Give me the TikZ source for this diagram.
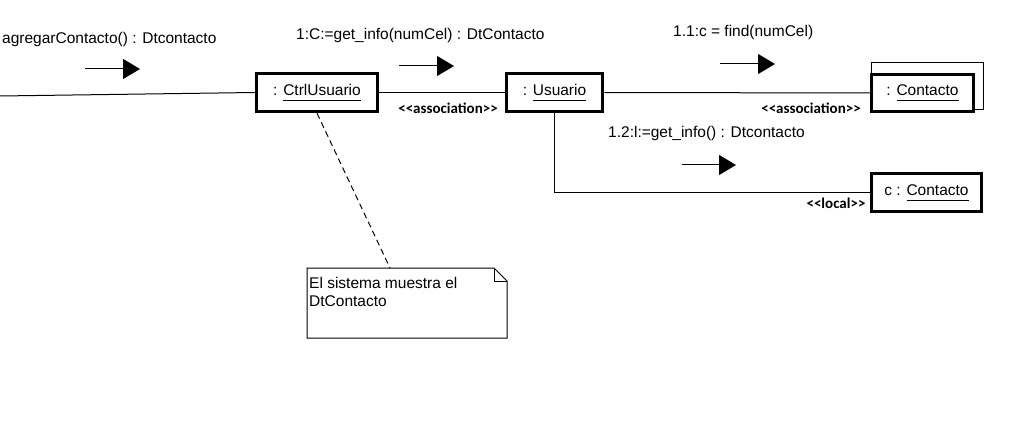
\documentclass[tikz,border=0pt]{standalone}
\usepackage{fontspec}
\setmainfont{Liberation Sans}
\newfontfamily\stereofont{Carlito}
\usetikzlibrary{arrows.meta}

% underlined object name, rule set below the descenders
\newcommand{\objname}[1]{\underline{#1\vphantom{g}}}

\tikzset{
  objbox/.style={draw, line width=3.5pt, fill=white, inner sep=0pt,
    font=\fontsize{15.5pt}{18pt}\selectfont},
  msgtext/.style={anchor=base west, inner sep=0pt,
    font=\fontsize{15.5pt}{18pt}\selectfont},
  stereo/.style={inner sep=0pt, font=\stereofont\bfseries\fontsize{15pt}{16pt}\selectfont},
  msgarrow/.style={line width=1pt, -{Triangle[length=17pt,width=20pt]}},
  link/.style={line width=1pt}
}

\begin{document}
\begin{tikzpicture}[x=1pt,y=-1pt]
						\useasboundingbox (0,0) rectangle (1010,425);
						%\draw[gray] (0,0) grid[step=50] (1010,425);
						% objects
						\node[objbox, minimum width=121pt, minimum height=38pt] (ctrl) at (317,92.5) {: \objname{CtrlUsuario}};
						\node[objbox, minimum width=96pt, minimum height=38pt] (usr) at (554.5,92.5) {: \objname{Usuario}};
						\draw[link] (871,63) rectangle (983,110);
						\node[objbox, minimum width=102pt, minimum height=37pt] (cont) at (922.5,93) {: \objname{Contacto}};
						\node[objbox, minimum width=110pt, minimum height=38pt] (cloc) at (926.5,192.5) {c : \objname{Contacto}};
						\coordinate (actor) at (0,96);
						\coordinate (notetip) at (390,268);
						% links
						\draw[link] (actor) -- (ctrl.west);
						\draw[link] (ctrl) -- (usr);
						\draw[link] (usr) -- (cont);
						\draw[link] (usr.south) |- (cloc.west);
						\draw[link, dash pattern=on 6pt off 4pt] (ctrl.south) -- (notetip);
						\node[stereo] (st1) at (448,108) {<<association>>};
						\node[stereo] (st2) at (811,108) {<<association>>};
						\node[stereo] (st3) at (836,203) {<<local>>};
						% messages
						\node[msgtext] (m0) at (2,44) {agregarContacto() : Dtcontacto};
						\node[msgtext] (m1) at (296,40) {1:C:=get\_info(numCel) : DtContacto};
						\node[msgtext] (m11) at (673,37) {1.1:c = find(numCel)};
						\node[msgtext] (m12) at (608,138) {1.2:l:=get\_info() : Dtcontacto};
						\draw[msgarrow] (85,69) -- (140,69);
						\draw[msgarrow] (399,66) -- (454,66);
						\draw[msgarrow] (720,64) -- (775,64);
						\draw[msgarrow] (682,165) -- (736,165);
						% note
						\draw[link] (307,268) -- (494,268) -- (507,281) -- (507,338) -- (307,338) -- cycle;
						\draw[link] (494,268) -- (494,281) -- (507,281);
						\node[msgtext, align=left, anchor=north west] (note) at (309,277) {El sistema muestra el\\DtContacto};
\end{tikzpicture}
\end{document}
